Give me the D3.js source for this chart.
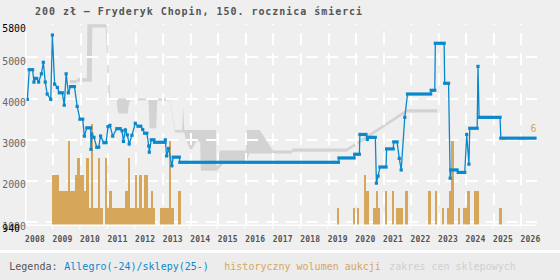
<!DOCTYPE html>
<html>
<head>
<meta charset="utf-8">
<script src="https://cdn.jsdelivr.net/npm/d3@7"></script>
<style>
    body { margin: 0; background: #efefef; }
    svg { display: block; }
    text { font-family: 'DejaVu Sans Mono', monospace; }
</style>
</head>
<body>
<script>
var title = '200 zł – Fryderyk Chopin, 150. rocznica śmierci'

var years = d3.range(2008, 2027)
var priceTicks = [1000, 2000, 3000, 4000, 5000]
var priceMin = 940
var priceMax = 5800
var volumeMax = 6

// [od, do, cena] - gdy od == do to pojedynczy punkt
var allegro = [
    [2008.06, 2008.06, 3980],
    [2008.13, 2008.25, 4700],
    [2008.30, 2008.30, 4400],
    [2008.36, 2008.40, 4490],
    [2008.47, 2008.47, 4400],
    [2008.57, 2008.57, 4600],
    [2008.64, 2008.64, 4880],
    [2008.71, 2008.71, 4400],
    [2008.78, 2008.78, 4110],
    [2008.91, 2008.91, 3980],
    [2008.97, 2008.97, 5540],
    [2009.05, 2009.05, 4350],
    [2009.15, 2009.15, 4270],
    [2009.22, 2009.33, 4140],
    [2009.40, 2009.40, 3840],
    [2009.47, 2009.47, 4600],
    [2009.55, 2009.55, 4140],
    [2009.63, 2009.77, 4290],
    [2009.87, 2009.87, 3810],
    [2009.97, 2010.07, 3500],
    [2010.13, 2010.13, 3090],
    [2010.22, 2010.36, 3290],
    [2010.37, 2010.37, 2770],
    [2010.40, 2010.40, 3140],
    [2010.48, 2010.48, 3060],
    [2010.58, 2010.65, 2820],
    [2010.72, 2010.72, 3090],
    [2010.84, 2010.92, 2930],
    [2010.99, 2010.99, 3320],
    [2011.06, 2011.06, 3350],
    [2011.16, 2011.16, 3090],
    [2011.31, 2011.43, 3270],
    [2011.50, 2011.50, 3220],
    [2011.55, 2011.55, 2960],
    [2011.62, 2011.62, 3240],
    [2011.69, 2011.69, 3120],
    [2011.76, 2011.76, 2900],
    [2011.86, 2011.86, 3110],
    [2011.98, 2011.98, 3400],
    [2012.08, 2012.18, 3330],
    [2012.25, 2012.25, 3250],
    [2012.32, 2012.40, 3160],
    [2012.47, 2012.47, 2850],
    [2012.49, 2012.49, 2700],
    [2012.56, 2012.66, 3000],
    [2012.68, 2013.06, 2940],
    [2013.07, 2013.07, 3000],
    [2013.12, 2013.12, 2610],
    [2013.19, 2013.19, 2790],
    [2013.31, 2013.31, 2370],
    [2013.36, 2013.58, 2580],
    [2013.60, 2019.36, 2455],
    [2019.38, 2019.93, 2560],
    [2019.95, 2020.12, 2650],
    [2020.14, 2020.36, 3130],
    [2020.41, 2020.41, 3010],
    [2020.43, 2020.70, 3060],
    [2020.74, 2020.74, 1950],
    [2020.80, 2020.80, 2120],
    [2020.87, 2021.09, 2340],
    [2021.11, 2021.35, 2780],
    [2021.37, 2021.49, 2950],
    [2021.57, 2021.57, 2550],
    [2021.64, 2021.64, 2270],
    [2021.77, 2021.77, 3545],
    [2021.87, 2022.71, 4110],
    [2022.73, 2022.86, 4200],
    [2022.88, 2023.20, 5340],
    [2023.22, 2023.36, 4370],
    [2023.42, 2023.42, 2070],
    [2023.44, 2023.67, 2270],
    [2023.71, 2023.95, 2210],
    [2024.02, 2024.02, 3130],
    [2024.10, 2024.10, 2410],
    [2024.13, 2024.40, 3280],
    [2024.43, 2024.43, 4780],
    [2024.47, 2025.23, 3545],
    [2025.26, 2026.50, 3040]
]

// [data, min, max] cen sklepowych
var shopRange = [
    [2009.61, 4370, 4450],
    [2009.85, 4370, 4450],
    [2009.87, 4410, 4490],
    [2010.22, 4410, 4490],
    [2010.24, 4410, 5800],
    [2010.40, 4410, 5800],
    [2010.42, 5720, 5800],
    [2010.90, 5720, 5800],
    [2010.93, 5400, 5780],
    [2011.02, 4000, 4600],
    [2011.07, 3960, 4000],
    [2011.30, 3960, 4000],
    [2011.34, 3700, 4000],
    [2011.38, 3640, 4000],
    [2011.70, 3640, 4000],
    [2011.76, 3900, 4000],
    [2011.80, 3960, 4000],
    [2012.46, 3960, 4000],
    [2012.50, 3280, 4000],
    [2012.74, 3280, 4000],
    [2012.78, 3950, 4000],
    [2013.24, 3950, 4000],
    [2013.42, 3180, 3240],
    [2013.68, 3180, 3240],
    [2013.72, 3180, 3800],
    [2013.76, 3180, 3240],
    [2013.82, 3000, 3240],
    [2013.97, 2770, 3240],
    [2014.05, 2780, 3240],
    [2014.20, 2960, 3240],
    [2014.34, 2960, 3240],
    [2014.36, 2250, 3240],
    [2014.91, 2250, 3240],
    [2014.93, 2250, 2320],
    [2015.05, 2330, 2740],
    [2015.25, 2470, 2740],
    [2016.00, 2470, 2740],
    [2016.03, 2470, 3240],
    [2016.12, 2670, 3240],
    [2016.50, 2670, 3240],
    [2016.98, 2670, 2740],
    [2017.66, 2670, 2740],
    [2017.70, 2710, 2790],
    [2019.66, 2710, 2790],
    [2021.84, 3660, 3740],
    [2022.95, 3660, 3740]
]

var volumeMonths = [
    '2009-01', '2009-02', '2009-03', '2009-04', '2009-05', '2009-06', '2009-07', '2009-08',
    '2009-09', '2009-10', '2009-11', '2009-12', '2010-01', '2010-02', '2010-03', '2010-04',
    '2010-05', '2010-06', '2010-07', '2010-08', '2010-09', '2010-10', '2010-12', '2011-01',
    '2011-02', '2011-03', '2011-04', '2011-05', '2011-06', '2011-07', '2011-08', '2011-09',
    '2011-10', '2011-11', '2011-12', '2012-01', '2012-02', '2012-03', '2012-04', '2012-05',
    '2012-06', '2012-07', '2012-08', '2012-09', '2012-12', '2013-01', '2013-02', '2013-03',
    '2013-04', '2013-05', '2013-08',
    '2019-05', '2019-12', '2020-02', '2020-05', '2020-06', '2020-09', '2020-10', '2020-11',
    '2021-02', '2021-05', '2021-07', '2021-08', '2021-09', '2021-11', '2022-09', '2022-12',
    '2023-03', '2023-05', '2023-06', '2023-07', '2023-10', '2023-12', '2024-01', '2024-02',
    '2024-05', '2024-06', '2025-04'
]
var volumeCounts = [
    3, 3, 3, 2, 2, 2, 2, 5,
    2, 2, 3, 4, 3, 3, 2, 4,
    1, 6, 1, 1, 4, 1, 4, 1,
    2, 1, 1, 1, 1, 1, 1, 2,
    4, 1, 1, 3, 1, 3, 1, 3,
    3, 1, 2, 1, 1, 1, 1, 1,
    5, 1, 2,
    1, 1, 1, 3, 2, 1, 2, 1,
    2, 2, 1, 1, 1, 2, 2, 2,
    1, 1, 2, 5, 1, 1, 1, 2,
    2, 2, 1
]

var legendItems = [
    {text: 'Legenda:', x: 9.3, color: '#555'},
    {text: 'Allegro(-24)/sklepy(25-)', x: 64.3, color: '#0a88cc'},
    {text: 'historyczny wolumen aukcji', x: 224.3, color: '#d6a75a'},
    {text: 'zakres cen sklepowych', x: 389.3, color: '#cfcfcf'}
]

function monthToYear(s) {
    var p = s.split('-')
    return +p[0] + (+p[1] - 1) / 12
}

function PriceChart() {
    var _chart = {}

    var _width = 560
    var _height = 280
    var _plot = {left: 25.7, right: 536.5, top: 24.3, bottom: 224.8}

    var _svg
    var _x, _y, _yVol

    _chart.render = function() {
        _svg = d3.select('body').append('svg')
            .attr('width', _width)
            .attr('height', _height)

        _x = d3.scaleLinear().domain([2008, 2026.555]).range([_plot.left, _plot.right])
        _y = d3.scaleLinear().domain([priceMin, priceMax]).range([_plot.bottom, _plot.top])
        _yVol = d3.scaleLinear().domain([0, volumeMax]).range([_plot.bottom, _plot.bottom - 100.5])

        renderBackground()
        renderRange()
        renderGrid()
        renderBars()
        renderLine()
        renderAxes()
        renderLegend()
    }

    function renderBackground() {
        _svg.append('rect')
            .attr('width', _width).attr('height', _height)
            .attr('fill', '#efefef')
        _svg.append('rect')
            .attr('y', 253).attr('width', _width).attr('height', _height - 253)
            .attr('fill', '#ececec')
        _svg.append('rect')
            .attr('y', 250).attr('width', _width).attr('height', 3)
            .attr('fill', '#fff')

        _svg.append('text')
            .attr('x', 35).attr('y', 15)
            .attr('font-size', '10px').attr('font-weight', 'bold')
            .attr('letter-spacing', '0.96px')
            .attr('fill', '#555')
            .text(title)
    }

    // szary obszar min-max cen w sklepach
    function renderRange() {
        var area = d3.area()
            .x(d => _x(d[0]))
            .y0(d => _y(d[1]))
            .y1(d => _y(d[2]))

        _svg.append('path')
            .datum(shopRange)
            .attr('d', area)
            .attr('fill', '#d3d3d3')
    }

    function renderGrid() {
        var g = _svg.append('g')
            .attr('class', 'grid')
            .attr('shape-rendering', 'crispEdges')

        g.selectAll('line.h')
            .data(priceTicks)
            .enter().append('line')
            .attr('class', 'h')
            .attr('x1', _plot.left).attr('x2', _plot.right)
            .attr('y1', d => _y(d)).attr('y2', d => _y(d))
            .attr('stroke', '#fff').attr('stroke-width', 2)
            .attr('stroke-dasharray', '12,8')

        g.selectAll('line.v')
            .data(years.slice(1))
            .enter().append('line')
            .attr('class', 'v')
            .attr('x1', d => _x(d)).attr('x2', d => _x(d))
            .attr('y1', _plot.bottom).attr('y2', _plot.top)
            .attr('stroke', '#fff').attr('stroke-width', 2)
            .attr('stroke-dasharray', '12,8')
    }

    function renderBars() {
        var mw = _x(2008 + 1 / 12) - _x(2008)

        _svg.append('g')
            .attr('shape-rendering', 'crispEdges')
            .selectAll('rect')
            .data(volumeMonths)
            .enter().append('rect')
            .attr('x', d => _x(monthToYear(d)) - mw / 2)
            .attr('width', mw)
            .attr('y', (d, i) => _yVol(volumeCounts[i]))
            .attr('height', (d, i) => _yVol(0) - _yVol(volumeCounts[i]))
            .attr('fill', '#d6a75a')

        _svg.append('text')
            .attr('x', _plot.right).attr('y', _yVol(volumeMax) + 7.5)
            .attr('text-anchor', 'end')
            .attr('font-size', '10px')
            .attr('fill', '#d6a75a')
            .text(volumeMax)
    }

    function renderLine() {
        var pts = []
        allegro.forEach(d => {
            pts.push([d[0], d[2]])
            if (d[1] > d[0]) pts.push([d[1], d[2]])
        })

        var line = d3.line()
            .x(d => _x(d[0]))
            .y(d => _y(d[1]))

        var g = _svg.append('g').attr('class', 'allegro')

        g.append('path')
            .datum(pts)
            .attr('d', line)
            .attr('fill', 'none')
            .attr('stroke', '#0a88cc')
            .attr('stroke-width', 1.3)

        var s = 3.2
        g.selectAll('rect')
            .data(allegro)
            .enter().append('rect')
            .attr('x', d => _x(d[0]) - s / 2)
            .attr('width', d => _x(d[1]) - _x(d[0]) + s)
            .attr('y', d => _y(d[2]) - s / 2)
            .attr('height', s)
            .attr('fill', '#0a88cc')
    }

    function renderAxes() {
        var g = _svg.append('g').attr('class', 'axes')

        g.append('line')
            .attr('x1', _plot.left).attr('x2', _plot.right)
            .attr('y1', _plot.bottom + 0.5).attr('y2', _plot.bottom + 0.5)
            .attr('stroke', '#fff').attr('stroke-width', 1.6)
        g.append('line')
            .attr('x1', _plot.left).attr('x2', _plot.left)
            .attr('y1', _plot.top).attr('y2', _plot.bottom + 0.5)
            .attr('stroke', '#fff').attr('stroke-width', 1.6)

        g.selectAll('line.tick')
            .data(years)
            .enter().append('line')
            .attr('class', 'tick')
            .attr('x1', d => _x(d) - 1).attr('x2', d => _x(d) - 1)
            .attr('y1', _plot.bottom).attr('y2', _plot.bottom + 4)
            .attr('stroke', '#fff').attr('stroke-width', 1.2)

        g.selectAll('text.year')
            .data(years)
            .enter().append('text')
            .attr('class', 'year')
            .attr('x', d => _x(d) - 0.7)
            .attr('y', 242.3)
            .attr('font-size', '8px').attr('font-weight', 'bold')
            .attr('letter-spacing', '0.2px')
            .attr('fill', '#555')
            .text(d => d)

        var labels = priceTicks.map(d => ({v: d, c: '#666'}))
            .concat([{v: priceMax, c: '#000'}, {v: priceMin, c: '#000'}])

        g.selectAll('text.price')
            .data(labels)
            .enter().append('text')
            .attr('class', 'price')
            .attr('x', 2.3)
            .attr('y', d => _y(d.v) + 7.3)
            .attr('font-size', '9.8px')
            .attr('fill', d => d.c)
            .text(d => d.v)
    }

    function renderLegend() {
        _svg.append('g').selectAll('text')
            .data(legendItems)
            .enter().append('text')
            .attr('x', d => d.x)
            .attr('y', 270)
            .attr('font-size', '10px')
            .attr('fill', d => d.color)
            .text(d => d.text)
    }

    return _chart
}

PriceChart().render()
</script>
</body>
</html>
